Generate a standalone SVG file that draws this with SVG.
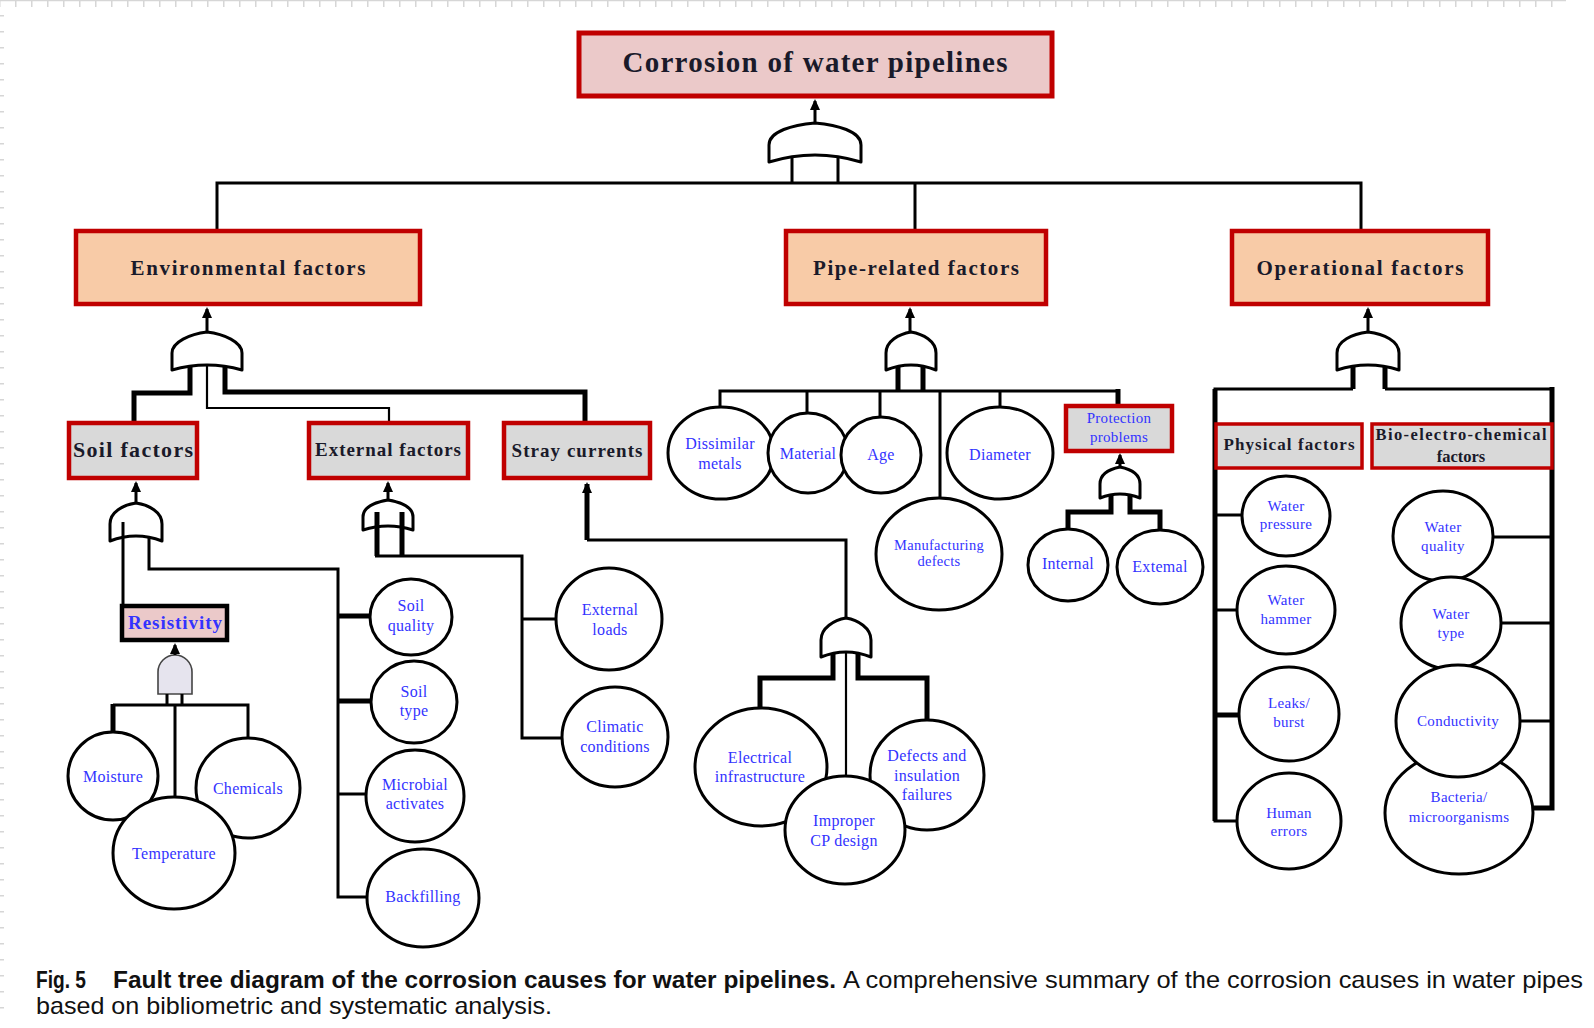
<svg xmlns="http://www.w3.org/2000/svg" width="1594" height="1028" viewBox="0 0 1594 1028">
<style>
.ln{fill:none;stroke:#000;stroke-width:3;stroke-linejoin:miter}
.th{stroke-width:5}
.tn{stroke-width:2.2}
.gate{fill:#fff;stroke:#000;stroke-width:3;stroke-linejoin:round}
.ell{fill:#fff;stroke:#000;stroke-width:3}
.b1{fill:#ebc9c9;stroke:#c00000;stroke-width:5}
.b2{fill:#f8cba7;stroke:#c00000;stroke-width:4.5}
.b3{fill:#d9d9d9;stroke:#c00000;stroke-width:4.5}
.b4{fill:#d9d9d9;stroke:#c00000;stroke-width:3.5}
.hd{font-family:"Liberation Serif","Times New Roman",serif;font-weight:bold;fill:#1a1a2a;text-anchor:middle}
.lb{font-family:"Liberation Serif","Times New Roman",serif;fill:#3333ff;text-anchor:middle;font-size:16px;letter-spacing:0.3px}
.cap{font-family:"Liberation Sans",Arial,sans-serif;font-size:24px;fill:#111}
</style>
<defs>
<marker id="ah" markerUnits="userSpaceOnUse" markerWidth="12" markerHeight="12" refX="9" refY="6" orient="auto">
<path d="M0,1 L11,6 L0,11 Z" fill="#000"/>
</marker>
</defs>
<rect width="1594" height="1028" fill="#fff"/>
<g id="ruler">
<line x1="0" y1="0.5" x2="1566" y2="0.5" stroke="#d6d6d6" stroke-width="1.5"/>
<line x1="0" y1="3.5" x2="1566" y2="3.5" stroke="#d6d6d6" stroke-width="7" stroke-dasharray="1.5 14.5" stroke-dashoffset="1"/>
<line x1="2" y1="0" x2="2" y2="1012" stroke="#d6d6d6" stroke-width="4" stroke-dasharray="1.5 14.5" stroke-dashoffset="1"/>
</g>

<g id="gates">
<path id="gate-top" class="gate" d="M769,162 L769,145 C769,131 793,125 815,123 C837,125 861,131 861,145 L861,162 Q815,148 769,162 Z"/>
<path id="gate-env" class="gate" d="M172,370 L172,353 C172,342 190,334 207,332 C224,334 242,342 242,353 L242,370 Q207,360 172,370 Z"/>
<path id="gate-soil" class="gate" d="M110,541 L110,524 C110,512 123,505 136,503 C149,505 162,512 162,524 L162,541 Q136,531 110,541 Z"/>
<path id="gate-ext" class="gate" d="M363,530 L363,517 C363,507 376,502 388,500 C400,502 413,507 413,517 L413,530 Q388,522 363,530 Z"/>
<path id="gate-stray" class="gate" d="M821,657 L821,640 C821,628 834,620 846,618 C858,620 871,628 871,640 L871,657 Q846,647 821,657 Z"/>
<path id="gate-pipe" class="gate" d="M886,370 L886,353 C886,341 899,334 911,332 C923,334 936,341 936,353 L936,370 Q911,360 886,370 Z"/>
<path id="gate-prot" class="gate" d="M1100,498 L1100,484 C1100,474 1110,469 1120,467 C1130,469 1140,474 1140,484 L1140,498 Q1120,490 1100,498 Z"/>
<path id="gate-op" class="gate" d="M1337,370 L1337,353 C1337,341 1352,334 1368,332 C1384,334 1399,341 1399,353 L1399,370 Q1368,360 1337,370 Z"/>
<path id="gate-res" d="M158,694 L158,672 A17,17 0 0 1 192,672 L192,694 Z" fill="#e6e4ee" stroke="#444" stroke-width="1.6"/>
</g>

<g id="connectors">
<line class="ln" x1="815" y1="123" x2="815" y2="101" marker-end="url(#ah)"/>
<path class="ln" d="M792,157 V183 M838,157 V183"/>
<path class="ln" d="M217,231 V183 H1361 V231 M915,183 V231"/>
<line class="ln" x1="207" y1="332" x2="207" y2="309" marker-end="url(#ah)"/>
<path class="ln th" d="M190,366 V393 H134 V422"/>
<path class="ln tn" d="M207,365 V408 H389 V422"/>
<path class="ln th" d="M225,366 V392 H585 V422"/>
<line class="ln" x1="136" y1="503" x2="136" y2="483" marker-end="url(#ah)"/>
<path class="ln" d="M123,522 V605"/>
<path class="ln" d="M149,537 V569 H338 V897 H368"/>
<path class="ln th" d="M338,616 H371 M338,701 H372"/>
<path class="ln" d="M338,794 H367"/>
<line class="ln" x1="175" y1="655" x2="175" y2="645" stroke-width="2" marker-end="url(#ah)"/>
<path class="ln" stroke-width="1.6" d="M167,694 V705 M182,694 V705"/>
<path class="ln" d="M113,705 H248 V738 M175,705 V798"/>
<path class="ln th" d="M113,704 V733"/>
<line class="ln" x1="388" y1="500" x2="388" y2="483" marker-end="url(#ah)"/>
<path class="ln th" d="M377,512 V556 M402,512 V556"/>
<path class="ln" d="M375,556 H522 V738 H563 M522,619 H557"/>
<line class="ln th" x1="587" y1="540" x2="587" y2="484" marker-end="url(#ah)"/>
<path class="ln" d="M587,540 H846 V618"/>
<path class="ln th" d="M833,653 V678 H760 V708 M858,653 V678 H927 V720"/>
<path class="ln tn" d="M846,652 V776"/>
<line class="ln" x1="910" y1="332" x2="910" y2="309" marker-end="url(#ah)"/>
<path class="ln th" d="M898,366 V391 M923,366 V391"/>
<path class="ln" d="M720,408 V391 H1118 M807,391 V414 M880,391 V418 M940,391 V499 M1000,391 V408"/>
<path class="ln th" d="M1118,389 V405"/>
<line class="ln" x1="1120" y1="467" x2="1120" y2="455" marker-end="url(#ah)"/>
<path class="ln th" d="M1111,495 V512 H1068 V529 M1130,495 V512 H1160 V531"/>
<line class="ln" x1="1368" y1="332" x2="1368" y2="309" marker-end="url(#ah)"/>
<path class="ln th" d="M1353,366 V389 M1385,366 V389"/>
<path class="ln" d="M1353,389 H1215 V821 H1238 M1385,389 H1552"/>
<path class="ln th" d="M1215,389 V821 M1552,387 V808 H1532"/>
<path class="ln" d="M1215,515 H1243 M1215,610 H1238 M1552,537 H1492 M1552,623 H1500 M1552,721 H1519"/>
<path class="ln th" d="M1215,715 H1240"/>
</g>

<g id="n-top"><rect class="b1" x="579" y="33" width="473" height="63"/><text class="hd" x="815" y="72" font-size="29" textLength="385" lengthAdjust="spacing">Corrosion of water pipelines</text></g>
<g id="n-env"><rect class="b2" x="76" y="231" width="344" height="73"/><text class="hd" x="248" y="275" font-size="21" textLength="235" lengthAdjust="spacing">Environmental factors</text></g>
<g id="n-pipe"><rect class="b2" x="786" y="231" width="260" height="73"/><text class="hd" x="916" y="275" font-size="21" textLength="206" lengthAdjust="spacing">Pipe-related factors</text></g>
<g id="n-op"><rect class="b2" x="1232" y="231" width="256" height="73"/><text class="hd" x="1360" y="275" font-size="21" textLength="207" lengthAdjust="spacing">Operational factors</text></g>

<g id="n-soil"><rect class="b3" x="69" y="423" width="128" height="55"/><text class="hd" x="133" y="457" font-size="22" textLength="120" lengthAdjust="spacing">Soil factors</text></g>
<g id="n-extf"><rect class="b3" x="309" y="423" width="159" height="55"/><text class="hd" x="388" y="456" font-size="19" textLength="146" lengthAdjust="spacing">External factors</text></g>
<g id="n-stray"><rect class="b3" x="504" y="423" width="146" height="55"/><text class="hd" x="577" y="457" font-size="19" textLength="131" lengthAdjust="spacing">Stray currents</text></g>
<g id="n-res"><rect x="122" y="606" width="105" height="34" fill="#ebc9c9" stroke="#000" stroke-width="4.5"/><text class="hd" x="175" y="629" font-size="19" style="fill:#3333ff" textLength="94" lengthAdjust="spacing">Resistivity</text></g>

<g id="n-moist"><ellipse class="ell" cx="113" cy="776" rx="45" ry="44"/><text class="lb" x="113" y="782">Moisture</text></g>
<g id="n-chem"><ellipse class="ell" cx="248" cy="788" rx="52" ry="50"/><text class="lb" x="248" y="794">Chemicals</text></g>
<g id="n-temp"><ellipse class="ell" cx="174" cy="853" rx="61" ry="56"/><text class="lb" x="174" y="859">Temperature</text></g>

<g id="n-squal"><ellipse class="ell" cx="411" cy="617" rx="41" ry="38"/><text class="lb" x="411" y="611">Soil</text><text class="lb" x="411" y="631">quality</text></g>
<g id="n-stype"><ellipse class="ell" cx="414" cy="702" rx="43" ry="41"/><text class="lb" x="414" y="697">Soil</text><text class="lb" x="414" y="716">type</text></g>
<g id="n-micro"><ellipse class="ell" cx="415" cy="796" rx="49" ry="46"/><text class="lb" x="415" y="790">Microbial</text><text class="lb" x="415" y="809">activates</text></g>
<g id="n-back"><ellipse class="ell" cx="423" cy="898" rx="56" ry="49"/><text class="lb" x="423" y="902">Backfilling</text></g>

<g id="n-eload"><ellipse class="ell" cx="609" cy="619" rx="53" ry="51"/><text class="lb" x="610" y="615">External</text><text class="lb" x="610" y="635">loads</text></g>
<g id="n-clim"><ellipse class="ell" cx="615" cy="737" rx="53" ry="50"/><text class="lb" x="615" y="732">Climatic</text><text class="lb" x="615" y="752">conditions</text></g>

<g id="n-elec"><ellipse class="ell" cx="761" cy="767" rx="66" ry="59"/><text class="lb" x="760" y="763">Electrical</text><text class="lb" x="760" y="782">infrastructure</text></g>
<g id="n-defi"><ellipse class="ell" cx="927" cy="775" rx="57" ry="55"/><text class="lb" x="927" y="761">Defects and</text><text class="lb" x="927" y="781">insulation</text><text class="lb" x="927" y="800">failures</text></g>
<g id="n-cp"><ellipse class="ell" cx="845" cy="830" rx="60" ry="54"/><text class="lb" x="844" y="826">Improper</text><text class="lb" x="844" y="846">CP design</text></g>

<g id="n-diss"><ellipse class="ell" cx="721" cy="453" rx="53" ry="46"/><text class="lb" x="720" y="449">Dissimilar</text><text class="lb" x="720" y="469">metals</text></g>
<g id="n-mat"><ellipse class="ell" cx="808" cy="453" rx="40" ry="40"/><text class="lb" x="808" y="459">Material</text></g>
<g id="n-age"><ellipse class="ell" cx="881" cy="455" rx="40" ry="38"/><text class="lb" x="881" y="460">Age</text></g>
<g id="n-manu"><ellipse class="ell" cx="939" cy="554" rx="63" ry="56"/><text class="lb" x="939" y="550" style="font-size:14.5px">Manufacturing</text><text class="lb" x="939" y="566" style="font-size:14.5px">defects</text></g>
<g id="n-diam"><ellipse class="ell" cx="1000" cy="453" rx="53" ry="46"/><text class="lb" x="1000" y="460">Diameter</text></g>
<g id="n-prot"><rect class="b3" x="1066" y="406" width="106" height="45"/><text class="lb" x="1119" y="423" style="font-size:15px">Protection</text><text class="lb" x="1119" y="442" style="font-size:15px">problems</text></g>
<g id="n-int"><ellipse class="ell" cx="1068" cy="565" rx="40" ry="36"/><text class="lb" x="1068" y="569">Internal</text></g>
<g id="n-extl"><ellipse class="ell" cx="1160" cy="567" rx="43" ry="37"/><text class="lb" x="1160" y="572">Extemal</text></g>

<g id="n-phys"><rect class="b4" x="1216" y="424" width="146" height="44"/><text class="hd" x="1289" y="450" font-size="17" textLength="131" lengthAdjust="spacing">Physical factors</text></g>
<g id="n-bio"><rect class="b4" x="1372" y="424" width="180" height="44"/><text class="hd" x="1461" y="440" font-size="16.5" textLength="171" lengthAdjust="spacing">Bio-electro-chemical</text><text class="hd" x="1461" y="462" font-size="16.5">factors</text></g>

<g id="n-wpres"><ellipse class="ell" cx="1286" cy="516" rx="44" ry="40"/><text class="lb" x="1286" y="511" style="font-size:15px">Water</text><text class="lb" x="1286" y="529" style="font-size:15px">pressure</text></g>
<g id="n-wham"><ellipse class="ell" cx="1286" cy="610" rx="49" ry="44"/><text class="lb" x="1286" y="605" style="font-size:15px">Water</text><text class="lb" x="1286" y="624" style="font-size:15px">hammer</text></g>
<g id="n-leak"><ellipse class="ell" cx="1289" cy="714" rx="50" ry="47"/><text class="lb" x="1289" y="708" style="font-size:15px">Leaks/</text><text class="lb" x="1289" y="727" style="font-size:15px">burst</text></g>
<g id="n-human"><ellipse class="ell" cx="1289" cy="821" rx="52" ry="48"/><text class="lb" x="1289" y="818" style="font-size:15px">Human</text><text class="lb" x="1289" y="836" style="font-size:15px">errors</text></g>

<g id="n-wqual"><ellipse class="ell" cx="1443" cy="536" rx="50" ry="45"/><text class="lb" x="1443" y="532" style="font-size:15px">Water</text><text class="lb" x="1443" y="551" style="font-size:15px">quality</text></g>
<g id="n-wtype"><ellipse class="ell" cx="1451" cy="623" rx="50" ry="46"/><text class="lb" x="1451" y="619" style="font-size:15px">Water</text><text class="lb" x="1451" y="638" style="font-size:15px">type</text></g>
<g id="n-bact"><ellipse class="ell" cx="1459" cy="813" rx="74" ry="61"/><text class="lb" x="1459" y="802" style="font-size:15px">Bacteria/</text><text class="lb" x="1459" y="822" style="font-size:15px">microorganisms</text></g>
<g id="n-cond"><ellipse class="ell" cx="1458" cy="721" rx="62" ry="56"/><text class="lb" x="1458" y="726" style="font-size:15px">Conductivity</text></g>

<g id="caption">
<text class="cap" x="36" y="988" font-weight="bold" textLength="50" lengthAdjust="spacingAndGlyphs">Fig. 5</text>
<text class="cap" x="113" y="988" font-weight="bold" textLength="723" lengthAdjust="spacingAndGlyphs">Fault tree diagram of the corrosion causes for water pipelines.</text>
<text class="cap" x="843" y="988" textLength="740" lengthAdjust="spacingAndGlyphs">A comprehensive summary of the corrosion causes in water pipes</text>
<text class="cap" x="36" y="1014" textLength="516" lengthAdjust="spacingAndGlyphs">based on bibliometric and systematic analysis.</text>
</g>
</svg>
